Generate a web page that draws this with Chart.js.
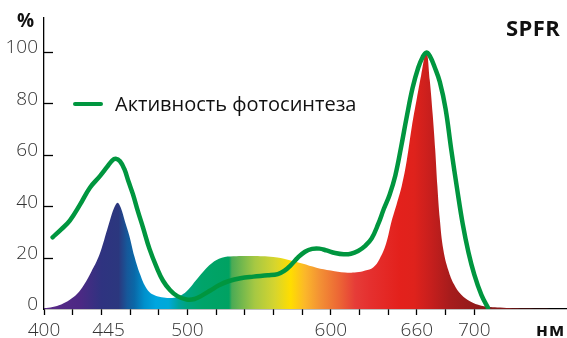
<!DOCTYPE html>
<html>
<head>
<meta charset="utf-8">
<script src="https://cdn.jsdelivr.net/npm/chart.js@4"></script>
<style>
  html, body { margin: 0; padding: 0; background: #fff; }
  #wrap { position: relative; width: 567px; height: 338px; }
  #wrap canvas { position: absolute; left: 0; top: 0; }
  .lbl { position: absolute; font-family: "Open Sans", sans-serif; color: #111; white-space: nowrap; line-height: 1; }
  #pct { left: 17px; top: 11px; font-size: 19px; font-weight: 700; }
  #unit { left: 536px; top: 320px; font-size: 18px; font-weight: 700; letter-spacing: 1px; }
  #brand { left: 506px; top: 16px; font-size: 22px; font-weight: 700; letter-spacing: 0.4px; }
  #legend { left: 73px; top: 94px; font-size: 20px; display: flex; align-items: center; }
  #legend i { display: inline-block; width: 30px; height: 4px; border-radius: 2px; background: #00963f; margin-right: 12px; }
</style>
</head>
<body>
<div id="wrap">
  <canvas id="spectrumChart" width="567" height="338"></canvas>
  <div class="lbl" id="pct">%</div>
  <div class="lbl" id="brand">SPFR</div>
  <div class="lbl" id="unit">нм</div>
  <div class="lbl" id="legend"><i></i>Активность фотосинтеза</div>
</div>
<script>
// spectrum of the lamp (relative intensity, %)
const specNm = [400, 406, 412, 418, 423, 428, 433, 438, 442, 446, 449, 451.3, 453.5, 456.5, 459.5, 463, 467, 471.5, 476, 482, 488, 493, 497, 501, 506, 511, 517, 524, 532, 545, 560, 570, 580, 590, 600, 610, 618, 624, 629.5, 634, 638.5, 642.5, 646, 649.5, 653, 656.5, 660, 663, 666.6, 669, 671, 672.8, 674.3, 676, 678.5, 682, 686, 691, 697, 705, 718, 735, 760];
const specVal = [0.3, 0.8, 1.8, 3.6, 5.8, 9.5, 14.5, 20.2, 27, 34.5, 39.5, 41.4, 39.5, 34, 28.5, 20.5, 13.5, 8, 5.6, 4.6, 4.3, 4.7, 5.8, 7.8, 11.2, 14.5, 17.8, 19.9, 20.5, 20.6, 20.2, 19.2, 17.7, 16.1, 15, 14.2, 14.3, 15, 16.2, 19.5, 25.4, 34.4, 41, 48, 58, 71, 82, 91, 100, 89, 76, 62, 48, 35, 23, 15, 9.5, 5.5, 3, 1.3, 0.6, 0.2, 0];

// photosynthesis activity curve (%)
const photoNm = [406, 412, 418, 425, 432, 439, 444, 447.5, 450, 453, 456, 459, 462, 465.5, 469, 473.5, 478.5, 483, 488, 493, 499.5, 505, 510, 516, 522, 529, 537, 546, 556, 563, 567.5, 572, 577, 582, 587, 592, 597, 603, 609, 614, 619, 624, 628.5, 633, 637, 641, 645, 649, 653, 657, 661, 664, 666.5, 669, 672.5, 676, 680, 684, 688, 692, 696, 700, 705, 709.6];
const photoVal = [27.9, 31, 34.4, 40.5, 47.2, 51.7, 55.3, 57.8, 58.5, 57.5, 54.5, 49.5, 44.7, 38, 31.8, 23.5, 16.3, 11, 7.3, 5, 3.7, 3.9, 5.2, 7.2, 9.2, 10.9, 12, 12.6, 13.1, 13.6, 14.8, 17, 20, 22.3, 23.4, 23.5, 22.8, 21.8, 21.3, 21.5, 22.6, 24.6, 27.5, 33, 39, 44.5, 52, 63, 75, 86, 94, 98, 99.8, 98.5, 94, 88.4, 78, 62, 47, 33, 22, 13.5, 5.5, 0.5];

// axis ticks
const xTickVals = [400, 420, 440, 445, 460, 480, 500, 520, 540, 560, 580, 600, 620, 640, 660, 680, 700];
const xLabelVals = [400, 445, 500, 600, 660, 700];
const yTickVals = [0, 20, 40, 60, 80, 100];

// rainbow colours of the filled spectrum
const gradNm = [400, 425, 440, 452, 458, 463, 470, 478, 487, 494, 500, 510, 529, 531, 547, 561, 572, 582, 592, 606, 617, 627, 648, 658, 669, 683, 704, 735];
const gradColor = ['#5b2a88', '#4c2984', '#2f3380', '#2b377e', '#16589a', '#0a68a8', '#0090cc', '#00a6df', '#00a9d8', '#00a39b', '#00a47e', '#00a46a', '#00a262', '#4bab55', '#a6c843', '#d6d52e', '#ffdd00', '#fbb72a', '#f39234', '#ec6535', '#e63c38', '#e5302f', '#e3211c', '#df221c', '#c81f1d', '#a71c1c', '#8e1a1a', '#7a1818'];

const spectrumPoints = specNm.map((x, i) => ({ x: x, y: specVal[i] }));
const photoPoints = photoNm.map((x, i) => ({ x: x, y: photoVal[i] }));

function rainbow(context) {
    const chart = context.chart;
    const area = chart.chartArea;
    if (!area) return null;
    const xs = chart.scales.x;
    const g = chart.ctx.createLinearGradient(area.left, 0, area.right, 0);
    gradNm.forEach((nm, i) => {
        let pos = (xs.getPixelForValue(nm) - area.left) / (area.right - area.left);
        pos = Math.min(1, Math.max(0, pos));
        g.addColorStop(pos, gradColor[i]);
    });
    return g;
}

// small tick marks on the inner side of the y axis
const innerTicks = {
    id: 'innerTicks',
    afterDraw(chart) {
        const c = chart.ctx;
        const ys = chart.scales.y;
        const left = chart.chartArea.left;
        c.save();
        c.strokeStyle = '#000';
        c.lineWidth = 1.3;
        yTickVals.forEach(v => {
            if (v === 0) return;
            const py = Math.round(ys.getPixelForValue(v)) + 0.5;
            c.beginPath();
            c.moveTo(left, py);
            c.lineTo(left + 9, py);
            c.stroke();
        });
        c.restore();
    }
};

const ctx = document.getElementById('spectrumChart').getContext('2d');
const spectrumChart = new Chart(ctx, {
    type: 'line',
    data: {
        datasets: [{
            label: 'Активность фотосинтеза',
            data: photoPoints,
            borderColor: '#00963f',
            borderWidth: 4.5,
            borderCapStyle: 'round',
            borderJoinStyle: 'round',
            pointRadius: 0,
            fill: false,
            tension: 0.4,
            order: 0
        }, {
            label: 'SPFR',
            data: spectrumPoints,
            borderWidth: 0,
            backgroundColor: rainbow,
            pointRadius: 0,
            fill: 'origin',
            tension: 0.4,
            order: 1
        }]
    },
    options: {
        responsive: false,
        animation: false,
        layout: { padding: { top: 15, right: 1, left: 0, bottom: 0 } },
        plugins: {
            legend: { display: false },
            tooltip: { enabled: false }
        },
        scales: {
            x: {
                type: 'linear',
                min: 400,
                max: 764,
                afterBuildTicks: s => { s.ticks = xTickVals.map(v => ({ value: v })); },
                afterFit: s => { s.height = 29; },
                border: { display: true, color: '#000', width: 1.3 },
                grid: {
                    drawOnChartArea: false,
                    drawTicks: true,
                    tickLength: 6,
                    tickWidth: 1.3,
                    tickColor: c => (c.tick && c.tick.value === 445) ? 'rgba(0,0,0,0)' : '#000'
                },
                ticks: {
                    autoSkip: false,
                    maxRotation: 0,
                    padding: 4,
                    color: '#333',
                    font: { family: 'Open Sans', size: 19, weight: 300 },
                    callback: v => xLabelVals.includes(v) ? String(v) : ''
                }
            },
            y: {
                min: 0,
                max: 113.5,
                afterBuildTicks: s => { s.ticks = yTickVals.map(v => ({ value: v })); },
                afterFit: s => { s.width = 44; },
                border: { display: true, color: '#000', width: 1.3 },
                grid: { display: false, drawTicks: false },
                ticks: {
                    padding: 6,
                    labelOffset: -4,
                    color: '#333',
                    font: { family: 'Open Sans', size: 19, weight: 300 }
                }
            }
        }
    },
    plugins: [innerTicks]
});
</script>
</body>
</html>
